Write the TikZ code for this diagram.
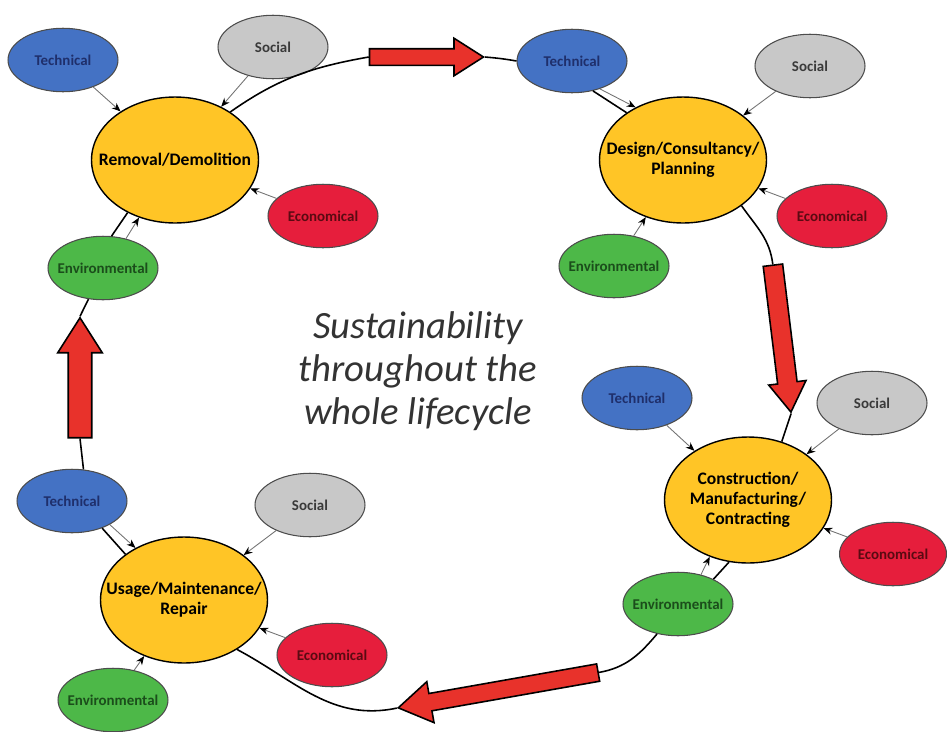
\documentclass[tikz,border=0pt]{standalone}
\usepackage{fontspec}
\setmainfont{Carlito}
\usetikzlibrary{shapes.geometric,shapes.arrows,arrows.meta}

\definecolor{stagefill}{HTML}{FFC526}
\definecolor{techfill}{HTML}{4472C4}
\definecolor{techtext}{HTML}{1F2F6B}
\definecolor{socfill}{HTML}{C8C8C8}
\definecolor{soctext}{HTML}{3A3A3A}
\definecolor{ecofill}{HTML}{E61E3C}
\definecolor{ecotext}{HTML}{5A0A12}
\definecolor{envfill}{HTML}{4DB848}
\definecolor{envtext}{HTML}{1B4D1B}
\definecolor{flowred}{HTML}{E8322B}

\tikzset{
  stage/.style={draw, ellipse, fill=stagefill, line width=0.8pt,
    minimum width=3.34cm, minimum height=2.52cm, inner xsep=-1cm, inner ysep=0pt,
    align=center, font=\fontsize{10}{11.5}\selectfont\bfseries},
  aspect/.style={draw=black!70, ellipse, line width=0.6pt,
    minimum width=2.2cm, minimum height=1.27cm, inner xsep=-0.6cm, inner ysep=0pt,
    font=\fontsize{8.5}{10}\selectfont\bfseries},
  tech/.style={aspect, fill=techfill, text=techtext},
  soc/.style={aspect, fill=socfill, text=soctext},
  eco/.style={aspect, fill=ecofill, text=ecotext},
  env/.style={aspect, fill=envfill, text=envtext},
  bigarrow/.style={single arrow, draw=black, fill=flowred, line width=0.9pt,
    inner xsep=0pt, single arrow tip angle=65},
  lifeline/.style={line width=0.9pt},
  impact/.style={draw=black!55, line width=0.5pt, -{Stealth[length=5pt,width=4pt,black]}},
}

\begin{document}
\begin{tikzpicture}[x=0.02cm, y=0.02cm]
    \useasboundingbox (0,0) rectangle (947,-731);

    % Removal stage, top left
    \node[stage] (rem) at (175,-160) {Removal/Demolition};
    \node[tech] (rem_tech) at (63,-60) {Technical};
    \node[soc] (rem_soc) at (273,-47) {Social};
    \node[eco] (rem_eco) at (323,-216) {Economical};
    \node[env] (rem_env) at (103,-268) {Environmental};

    % Design stage, top right
    \node[stage] (des) at (683,-160) {Design/Consultancy/\\Planning};
    \node[tech] (des_tech) at (572,-61) {Technical};
    \node[soc] (des_soc) at (810,-66) {Social};
    \node[eco] (des_eco) at (832,-216) {Economical};
    \node[env] (des_env) at (614,-266) {Environmental};

    % Construction stage, bottom right
    \node[stage] (con) at (748,-500) {Construction/\\Manufacturing/\\Contracting};
    \node[tech] (con_tech) at (637,-398) {Technical};
    \node[soc] (con_soc) at (872,-403) {Social};
    \node[eco, minimum width=2.14cm] (con_eco) at (893,-554) {Economical};
    \node[env] (con_env) at (678,-604) {Environmental};

    % Usage stage, bottom left
    \node[stage] (use) at (184,-600) {Usage/Maintenance/\\Repair};
    \node[tech] (use_tech) at (72,-501) {Technical};
    \node[soc] (use_soc) at (310,-505) {Social};
    \node[eco] (use_eco) at (332,-655) {Economical};
    \node[env] (use_env) at (113,-700) {Environmental};

    % Big red arrows between the stages
    \node[bigarrow, minimum height=2.28cm, inner ysep=0.15cm,
      single arrow head extend=0.21cm] (arr_top) at (420,-57) {};
    \node[bigarrow, minimum height=2.96cm, inner ysep=0.18cm,
      single arrow head extend=0.18cm, rotate=-83] (arr_down) at (781,-331) {};
    \node[bigarrow, minimum height=4.06cm, inner ysep=0.16cm,
      single arrow head extend=0.24cm, rotate=190] (arr_bot) at (505,-689) {};
    \node[bigarrow, minimum height=2.4cm, inner ysep=0.22cm,
      single arrow head extend=0.21cm, rotate=90] (arr_up) at (80,-387) {};

    % Centre text
    \node[font=\fontsize{22}{24.5}\selectfont\itshape, text=black!80, align=center]
      (title) at (418,-371) {Sustainability\\throughout the\\whole lifecycle};

    % Lifecycle line
    \draw[lifeline] (rem.41) to[out=35,in=190] (arr_top.tail);
    \draw[lifeline] (arr_top.tip) to[out=-5,in=170] (des_tech.west);
    \draw[lifeline] (des_tech.-55) -- (des.140);
    \draw[lifeline] (des.-38) to[out=-55,in=97] (arr_down.tail);
    \draw[lifeline] (arr_down.tip) -- (con.60);
    \draw[lifeline] (con.-107) -- (con_env.35);
    \draw[lifeline] (con_env.-125) to[out=-130,in=10] (arr_bot.tail);
    \draw[lifeline] (arr_bot.tip) to[out=192,in=-28] (use.-43);
    \draw[lifeline] (use.142) -- (use_tech.-42);
    \draw[lifeline] (use_tech.70) -- (arr_up.tail);
    \draw[lifeline] (arr_up.tip) -- (rem_env.-115);
    \draw[lifeline] (rem_env.75) -- (rem.-132);

    % Aspects pointing into each stage
    \draw[impact] (rem_tech) -- (rem);
    \draw[impact] (rem_soc) -- (rem);
    \draw[impact] (rem_eco) -- (rem);
    \draw[impact] (rem_env.52) -- (rem.-122);

    \draw[impact] (des_tech.-45) -- (des.132);
    \draw[impact] (des_soc) -- (des);
    \draw[impact] (des_eco) -- (des);
    \draw[impact] (des_env) -- (des);

    \draw[impact] (con_tech) -- (con);
    \draw[impact] (con_soc) -- (con);
    \draw[impact] (con_eco) -- (con);
    \draw[impact] (con_env.52) -- (con.-124);

    \draw[impact] (use_tech.-32) -- (use.133);
    \draw[impact] (use_soc) -- (use);
    \draw[impact] (use_eco) -- (use);
    \draw[impact] (use_env) -- (use);
\end{tikzpicture}
\end{document}
